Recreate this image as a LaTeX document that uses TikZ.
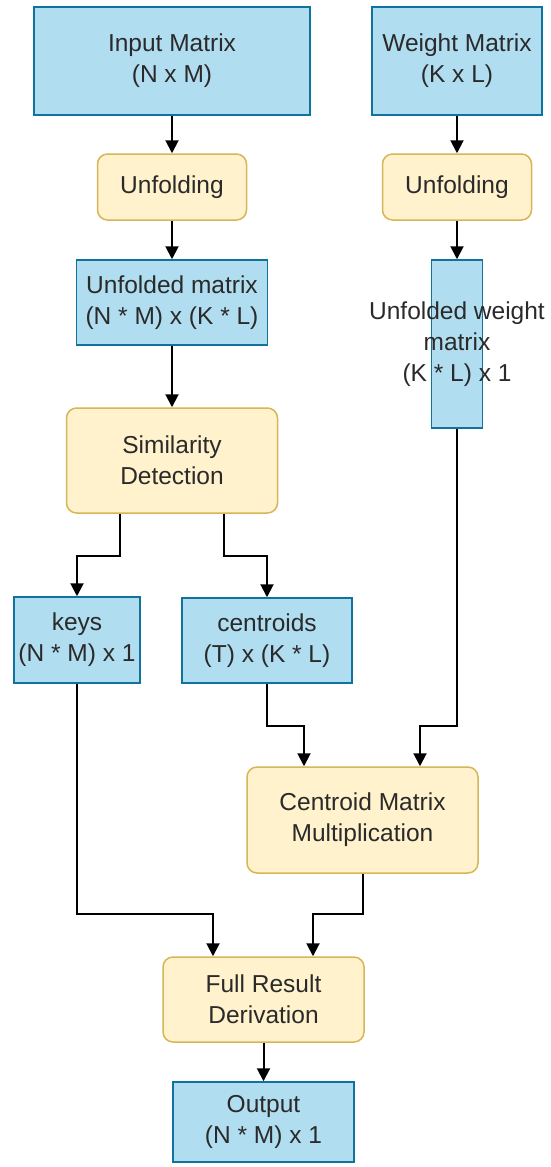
\documentclass[tikz,border=0pt]{standalone}
\usepackage{fontspec}
\setmainfont{Liberation Sans}
\usetikzlibrary{arrows.meta}
\definecolor{bfill}{HTML}{B1DDF0}
\definecolor{bdraw}{HTML}{10739E}
\definecolor{yfill}{HTML}{FFF2CC}
\definecolor{ydraw}{HTML}{D6B656}
\definecolor{txt}{HTML}{2A2A2A}
\begin{document}
\begin{tikzpicture}[x=1pt,y=-1pt,
  base/.style={line width=1.5pt, text=txt, align=center, inner sep=0pt,
    font=\fontsize{24.5}{31}\selectfont},
  bluebox/.style={base, draw=bdraw, fill=bfill},
  yelbox/.style={base, draw=ydraw, fill=yfill, rounded corners=10pt},
  conn/.style={line width=2pt, draw=black, -{Triangle[length=13pt,width=13pt]}}]
\useasboundingbox (0,0) rectangle (550,1167);

\node[bluebox, minimum width=276, minimum height=108] (inp) at (172,61) {Input Matrix\\(N x M)};
\node[bluebox, minimum width=170, minimum height=108] (wgt) at (457,61) {Weight Matrix\\(K x L)};
\node[yelbox, minimum width=149, minimum height=66] (unfl) at (172,187) {Unfolding};
\node[yelbox, minimum width=149, minimum height=66] (unfr) at (457,187) {Unfolding};
\node[bluebox, minimum width=191, minimum height=85] (unfm) at (172,302.5) {Unfolded matrix\\(N * M) x (K * L)};
\node[bluebox, minimum width=51, minimum height=168,
  label={[base]center:Unfolded weight\\matrix\\(K * L) x 1}] (unfw) at (457,344) {};
\node[yelbox, minimum width=211, minimum height=105] (sim) at (172,460.5) {Similarity\\Detection};
\node[bluebox, minimum width=126, minimum height=86] (keys) at (77,640) {keys\\(N * M) x 1};
\node[bluebox, minimum width=170, minimum height=85] (cent) at (267,640.5) {centroids\\(T) x (K * L)};
\node[yelbox, minimum width=231, minimum height=106] (cmm) at (362.5,820) {Centroid Matrix\\Multiplication};
\node[yelbox, minimum width=201, minimum height=85] (full) at (263.5,999.5) {Full Result\\Derivation};
\node[bluebox, minimum width=181, minimum height=80] (out) at (263.5,1122) {Output\\(N * M) x 1};

\draw[conn] (inp.south) -- (unfl.north);
\draw[conn] (wgt.south) -- (unfr.north);
\draw[conn] (unfl.south) -- (unfm.north);
\draw[conn] (unfr.south) -- (unfw.north);
\draw[conn] (unfm.south) -- (sim.north);
\draw[conn] ([xshift=-52pt]sim.south) -- ++(0,42) -| (keys.north);
\draw[conn] ([xshift=52pt]sim.south) -- ++(0,42) -| (cent.north);
\draw[conn] (cent.south) -- ++(0,42) -| ([xshift=-58.5pt]cmm.north);
\draw[conn] (unfw.south) -- ++(0,297) -| ([xshift=57.5pt]cmm.north);
\draw[conn] (keys.south) -- ++(0,230) -| ([xshift=-50.5pt]full.north);
\draw[conn] (cmm.south) -- ++(0,40) -| ([xshift=49.5pt]full.north);
\draw[conn] (full.south) -- (out.north);
\end{tikzpicture}
\end{document}
